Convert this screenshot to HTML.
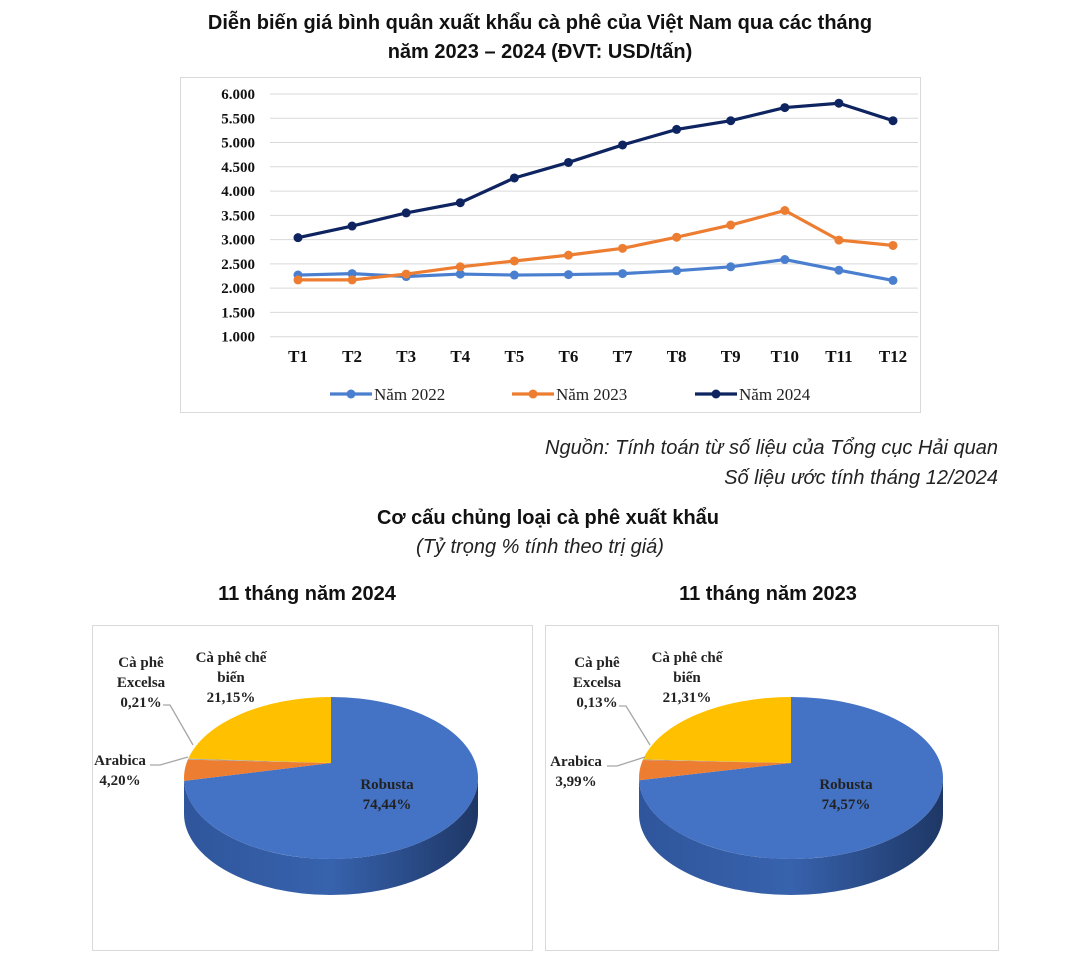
<!DOCTYPE html>
<html><head><meta charset="utf-8"><style>
body{margin:0;background:#fff;width:1080px;height:959px;overflow:hidden;font-family:"Liberation Sans",sans-serif;}
svg{position:absolute;left:0;top:0;}
</style></head><body>
<svg id="s" width="1080" height="959" viewBox="0 0 1080 959">
<defs>
<linearGradient id="side" x1="0" x2="1" y1="0" y2="0">
<stop offset="0" stop-color="#2f569c"/><stop offset="0.5" stop-color="#3762ad"/><stop offset="1" stop-color="#1e3766"/></linearGradient>
</defs>
<g font-weight="bold" font-size="20" text-anchor="middle" fill="#111">
<text x="540" y="29">Diễn biến giá bình quân xuất khẩu cà phê của Việt Nam qua các tháng</text>
<text x="540" y="58">năm 2023 – 2024 (ĐVT: USD/tấn)</text>
</g>
<rect x="180.5" y="77.5" width="740" height="335" fill="#fff" stroke="#d9d9d9"/>
<g id="grid"></g>
<g id="lines"></g>
<g id="ylab" font-family="Liberation Serif,serif" font-weight="bold" font-size="15" text-anchor="end" fill="#111"></g>
<g id="xlab" font-family="Liberation Serif,serif" font-weight="bold" font-size="17" text-anchor="middle" fill="#111"></g>
<g id="legend" font-family="Liberation Serif,serif" font-size="17" fill="#222"></g>
<g font-style="italic" font-size="20" text-anchor="end" fill="#222">
<text x="998" y="454">Nguồn: Tính toán từ số liệu của Tổng cục Hải quan</text>
<text x="998" y="484">Số liệu ước tính tháng 12/2024</text>
</g>
<text x="548" y="524" font-weight="bold" font-size="20" text-anchor="middle" fill="#111">Cơ cấu chủng loại cà phê xuất khẩu</text>
<text x="540" y="553" font-style="italic" font-size="20" text-anchor="middle" fill="#222">(Tỷ trọng % tính theo trị giá)</text>
<text x="307" y="600" font-weight="bold" font-size="20" text-anchor="middle" fill="#111">11 tháng năm 2024</text>
<text x="768" y="600" font-weight="bold" font-size="20" text-anchor="middle" fill="#111">11 tháng năm 2023</text>
<rect x="92.5" y="625.5" width="440" height="325" fill="none" stroke="#d9d9d9"/>
<rect x="545.5" y="625.5" width="453" height="325" fill="none" stroke="#d9d9d9"/>
<g id="pies"></g>
</svg>
<script>
const months=["T1","T2","T3","T4","T5","T6","T7","T8","T9","T10","T11","T12"];
const yTicks=[1000,1500,2000,2500,3000,3500,4000,4500,5000,5500,6000];
const yTickLabels=["1.000","1.500","2.000","2.500","3.000","3.500","4.000","4.500","5.000","5.500","6.000"];
const seriesNames=["Năm 2022","Năm 2023","Năm 2024"];
const v2022=[2270,2300,2240,2290,2270,2280,2300,2360,2440,2590,2370,2160];
const v2023=[2170,2170,2290,2440,2560,2680,2820,3050,3300,3600,2990,2880];
const v2024=[3040,3280,3550,3760,4270,4590,4950,5270,5450,5720,5810,5450];
const pieLabels=["Robusta","Arabica","Cà phê Excelsa","Cà phê chế biến"];
const pie2024=[74.44,4.20,0.21,21.15];
const pie2023=[74.57,3.99,0.13,21.31];

const NS="http://www.w3.org/2000/svg";
function mk(t,a,p){const e=document.createElementNS(NS,t);for(const k in a)e.setAttribute(k,a[k]);p.appendChild(e);return e;}
const Y=v=>94+(6000-v)*(242.7/5000);
const X=i=>298+i*(595/11);
const grid=document.getElementById('grid'),ylab=document.getElementById('ylab'),xlab=document.getElementById('xlab'),lines=document.getElementById('lines'),legend=document.getElementById('legend');
yTicks.forEach((v,i)=>{
 const l=mk('line',{x1:270,x2:918,y1:Y(v),y2:Y(v),stroke:'#d9d9d9','stroke-width':1},grid);
 
 
 const t=mk('text',{x:255,y:Y(v)+5},ylab);t.textContent=yTickLabels[i];
 
 
});
months.forEach((m,i)=>{const t=mk('text',{x:X(i),y:362},xlab);t.textContent=m;
 
 });
const colors=["#4a7fd0","#ed7d31","#0e2460"];
[v2022,v2023,v2024].forEach((s,k)=>{
 const g=mk('g',{},lines);
 
 
 mk('polyline',{points:s.map((v,i)=>X(i)+','+Y(v)).join(' '),fill:'none',stroke:colors[k],'stroke-width':3.2},g);
 s.forEach((v,i)=>{const c=mk('circle',{cx:X(i),cy:Y(v),r:4.5,fill:colors[k]},g);
  
  });
 const lx=[330,512,695][k];
 const lg=mk('g',{},legend);
 
 
 mk('line',{x1:lx,x2:lx+42,y1:394,y2:394,stroke:colors[k],'stroke-width':3.2},lg);
 mk('circle',{cx:lx+21,cy:394,r:4.5,fill:colors[k]},lg);
 const t=mk('text',{x:lx+44,y:400},lg);t.textContent=seriesNames[k];
});
function drawPie(vals,cx,cy,rx,ry,depth,ay,lbl,name){
 const g=mk('g',{},document.getElementById('pies'));
 
 
 const sd=mk('path',{d:`M${cx-rx},${cy} A${rx},${ry} 0 0 0 ${cx+rx},${cy} L${cx+rx},${cy+depth} A${rx},${ry} 0 0 1 ${cx-rx},${cy+depth} Z`,fill:'url(#side)'},g);
 
 
 const cols=["#4472c4","#ed7d31","#a5a5a5","#ffc000"];
 const tot=vals.reduce((a,b)=>a+b,0);let a=0;
 const P=t=>[cx+rx*Math.sin(t),cy-ry*Math.cos(t)];
 vals.forEach((v,i)=>{
  const a0=a/tot*2*Math.PI;a+=v;const a1=a/tot*2*Math.PI;
  const p0=P(a0),p1=P(a1);const large=(a1-a0)>Math.PI?1:0;
  const s=mk('path',{d:`M${cx},${ay} L${p0[0]},${p0[1]} A${rx},${ry} 0 ${large} 1 ${p1[0]},${p1[1]} Z`,fill:cols[i]},g);
  
  
 });
 const tg=mk('g',{'font-family':'Liberation Serif,serif','font-weight':'bold','font-size':15,'text-anchor':'middle',fill:'#222'},g);
 const fmt=v=>v.toFixed(2).replace('.',',')+'%';
 const items=[
  [["Robusta",fmt(vals[0])],lbl.r],
  [["Arabica",fmt(vals[1])],lbl.a],
  [["Cà phê","Excelsa",fmt(vals[2])],lbl.e],
  [["Cà phê chế","biến",fmt(vals[3])],lbl.c]];
 items.forEach(([ls,p])=>{ls.forEach((s,j)=>{const t=mk('text',{x:p[0],y:p[1]+j*20},tg);t.textContent=s;
  
  });});
 mk('polyline',{points:lbl.le,fill:'none',stroke:'#a6a6a6','stroke-width':1.3},g);
 mk('polyline',{points:lbl.la,fill:'none',stroke:'#a6a6a6','stroke-width':1.3},g);
}
drawPie(pie2024,331,778,147,81,36,763,{r:[387,789],a:[120,765],e:[141,667],c:[231,662],
 le:"163,705 170,705 193,745",la:"150,765 160,765 188,757"},'pie-2024');
drawPie(pie2023,791,778,152,81,36,763,{r:[846,789],a:[576,766],e:[597,667],c:[687,662],
 le:"619,706 626,706 650,745",la:"607,766 617,766 645,757"},'pie-2023');
</script>
</body></html>
